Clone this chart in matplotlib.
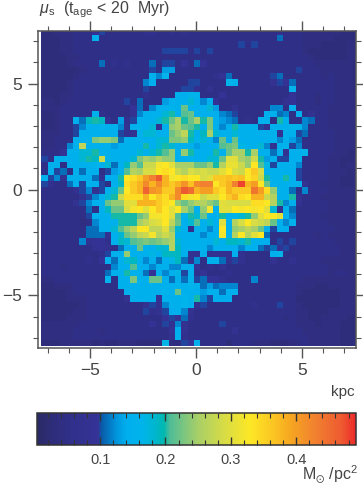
import matplotlib
matplotlib.use('Agg')
import matplotlib.pyplot as plt
from matplotlib.colors import LinearSegmentedColormap, Normalize
from matplotlib.ticker import MultipleLocator
import numpy as np

plt.rcParams['font.family'] = ['Liberation Sans', 'DejaVu Sans']
plt.rcParams['mathtext.fontset'] = 'custom'
plt.rcParams['mathtext.rm'] = 'Liberation Sans'
plt.rcParams['mathtext.it'] = 'Liberation Sans:italic'
plt.rcParams['mathtext.fallback'] = 'stixsans'

# surface density per cell in hundredths of Msun/pc^2, top row first
row_00 = [3,3,4,4,4,5,5,5,9,10, 5,5,5,5,5,5,6,7,5,5, 6,5,6,5,5,5,5,5,5,5, 5,5,5,5,5,5,5,6,5,5, 5,4,4,4,4,4,4,3,3,3]
row_01 = [3,3,3,4,4,5,5,5,15,5, 5,5,5,5,5,5,5,5,5,5, 5,5,5,5,5,5,5,5,5,5, 5,5,5,5,5,5,5,11,5,5, 5,4,4,4,4,4,3,3,3,3]
row_02 = [3,3,3,4,4,5,5,5,5,5, 5,5,5,5,5,5,5,5,5,5, 5,5,5,5,5,5,5,5,5,5, 5,10,5,10,5,5,5,5,5,5, 5,4,4,4,3,3,3,3,4,4]
row_03 = [3,3,3,4,4,5,5,5,5,5, 5,5,5,5,5,5,5,5,5,10, 10,10,10,5,10,5,10,5,5,5, 5,5,5,5,5,5,5,5,5,5, 5,4,3,3,3,3,3,3,4,4]
row_04 = [3,3,3,3,4,4,5,5,5,5, 5,5,5,5,5,5,5,5,5,5, 5,5,5,5,5,5,5,5,5,5, 5,5,5,5,5,5,5,5,5,5, 5,5,4,3,3,3,3,3,4,4]
row_05 = [3,3,3,3,4,5,5,5,5,11, 5,6,5,6,5,5,5,11,5,10, 10,5,9,5,11,9,5,5,5,5, 5,5,5,5,5,5,5,5,5,5, 5,5,5,4,4,4,4,4,4,3]
row_06 = [3,3,3,3,3,3,4,5,5,5, 5,5,5,5,5,5,5,10,5,13, 13,5,5,5,5,5,5,5,5,5, 5,5,5,5,5,5,5,5,5,5, 10,5,5,5,4,4,4,4,4,3]
row_07 = [3,3,3,3,3,4,5,5,5,5, 5,5,5,5,5,5,5,15,12,16, 5,5,5,5,5,5,5,6,9,11, 5,5,5,5,5,5,10,11,5,5, 5,5,5,5,4,5,4,4,4,3]
row_08 = [3,3,3,3,4,5,5,5,5,5, 5,5,5,5,5,5,12,14,5,5, 5,5,5,10,10,5,5,5,5,16, 15,5,5,5,5,5,8,10,9,11, 5,5,5,5,5,5,4,4,4,3]
row_09 = [3,3,3,3,4,5,5,5,5,5, 5,5,5,5,5,5,10,5,5,5, 5,5,10,10,7,5,8,5,5,5, 5,5,5,5,5,5,5,5,5,16, 5,5,5,5,5,5,4,4,4,3]
row_10 = [3,3,3,4,4,5,5,5,5,5, 5,5,5,5,5,5,6,5,5,5, 5,15,14,16,16,5,5,5,9,5, 5,5,5,5,5,5,5,5,5,9, 5,5,5,4,5,5,4,4,4,4]
row_11 = [4,4,3,4,5,5,5,5,5,5, 5,5,5,10,5,11,5,5,5,13, 15,15,15,18,15,12,15,9,5,5, 5,5,5,5,5,5,5,5,8,9, 5,5,5,4,5,5,4,4,4,4]
row_12 = [4,4,4,5,5,5,5,5,5,5, 5,5,5,5,9,11,5,12,15,15, 16,15,22,15,15,15,18,13,5,5, 8,5,5,5,5,5,12,12,5,15, 5,5,5,5,5,4,4,4,4,4]
row_13 = [3,3,4,5,5,5,5,5,15,6, 5,5,5,5,8,12,15,15,15,18, 20,15,21,22,15,15,15,15,12,11, 10,5,5,5,5,15,15,11,12,5, 15,5,8,5,5,4,4,4,4,4]
row_14 = [3,3,4,5,5,15,11,19,20,19, 9,5,13,7,10,15,15,15,18,20, 22,25,20,22,25,20,23,15,13,12, 11,5,6,5,15,15,5,20,15,5, 5,12,11,5,5,4,4,4,4,4]
row_15 = [3,3,4,5,5,10,12,15,15,16, 15,15,12,8,15,16,15,18,8,15, 24,25,22,21,20,15,23,15,12,15, 20,15,15,15,10,7,15,15,15,16, 15,12,5,5,5,4,4,4,4,4]
row_16 = [4,4,4,5,5,10,15,15,15,15, 15,15,10,7,8,15,18,18,15,15, 22,24,27,20,15,19,25,18,15,15, 18,15,15,15,15,15,15,8,15,15, 10,11,5,5,5,5,4,4,4,4]
row_17 = [4,4,5,5,5,15,15,15,23,24, 24,23,11,15,15,15,15,15,18,18, 23,23,24,19,16,18,15,12,22,15, 22,15,15,15,15,15,15,12,15,13, 11,5,5,5,5,5,4,4,4,4]
row_18 = [4,4,5,5,12,15,27,15,15,15, 15,13,15,15,15,15,20,15,18,20, 18,15,15,15,13,14,15,15,21,22, 23,17,15,15,18,12,8,15,16,10, 12,5,5,5,5,5,4,4,4,4]
row_19 = [5,5,5,9,15,15,18,18,20,15, 15,15,15,15,15,18,15,18,20,21, 24,15,24,20,15,15,15,20,15,22, 25,25,20,25,15,15,11,15,8,15, 15,16,5,5,5,5,4,4,3,3]
row_20 = [10,5,15,15,15,15,18,20,19,28, 15,15,15,15,18,23,25,24,26,24, 24,15,15,16,15,15,18,18,22,30, 30,25,24,28,20,13,15,10,10,15, 15,5,5,5,5,4,4,3,3,4]
row_21 = [5,15,15,5,15,15,15,15,16,15, 18,11,15,19,24,21,28,28,32,33, 30,25,25,25,22,22,24,20,26,31, 31,28,24,33,21,17,10,15,15,15, 12,5,5,5,5,4,4,3,4,4]
row_22 = [5,15,10,11,5,15,11,15,15,5, 10,13,15,21,26,25,29,29,33,34, 33,28,26,29,28,29,28,28,30,33, 29,28,33,36,29,15,15,15,15,15, 10,5,5,5,5,4,4,4,3,4]
row_23 = [15,10,12,8,15,15,15,14,11,8, 14,15,20,33,34,36,40,43,47,38, 32,33,34,33,33,29,30,36,36,37, 36,37,33,35,28,20,15,15,20,15, 10,5,5,5,5,4,4,3,3,4]
row_24 = [10,7,5,5,11,15,10,15,15,10, 5,15,19,34,36,38,42,38,42,38, 36,38,41,37,42,43,43,33,36,38, 43,48,38,40,33,22,15,15,15,15, 15,8,5,5,4,4,4,3,3,4]
row_25 = [5,5,5,5,5,7,10,12,8,10, 15,18,22,33,36,38,46,41,40,36, 36,42,47,45,38,40,40,36,34,38, 36,36,36,44,40,34,24,15,15,11, 5,12,5,5,5,4,4,4,4,4]
row_26 = [5,5,5,5,5,5,8,10,12,15, 18,20,28,34,34,34,38,33,36,34, 38,42,34,32,33,28,30,30,33,36, 38,34,33,38,38,28,26,15,15,20, 8,5,5,5,4,4,4,4,4,4]
row_27 = [5,5,5,5,5,8,10,12,15,15, 22,24,24,30,30,38,38,38,36,34, 33,24,22,24,26,26,24,22,30,29, 29,29,29,34,34,33,26,20,12,15, 8,5,5,5,5,4,4,4,4,4]
row_28 = [5,5,5,5,5,5,5,11,5,15, 19,22,22,29,32,33,30,33,36,33, 30,33,25,22,15,24,32,15,30,30, 33,32,33,32,33,30,18,8,15,11, 5,5,5,5,5,4,4,4,4,4]
row_29 = [5,5,5,5,5,5,5,10,15,15, 15,20,20,20,20,22,24,32,32,33, 30,21,15,20,18,22,15,15,20,15, 16,18,20,24,30,33,33,30,15,12, 5,5,5,5,4,4,4,4,4,4]
row_30 = [5,5,5,5,5,5,4,5,12,15, 15,15,20,20,20,25,27,29,30,33, 27,22,15,18,21,15,18,15,30,15, 26,29,33,29,28,27,22,15,12,15, 5,5,5,5,5,4,4,4,4,4]
row_31 = [5,5,5,5,5,5,5,11,11,15, 15,18,21,24,27,33,33,27,27,30, 24,18,15,6,15,15,12,15,33,15, 24,25,27,25,22,15,10,15,14,5, 5,5,5,5,5,5,4,4,4,4]
row_32 = [5,5,5,5,5,5,5,11,11,11, 8,15,18,22,24,27,28,32,26,28, 26,15,15,15,15,12,15,15,32,15, 26,33,26,30,33,11,5,5,5,5, 5,5,5,4,5,4,4,4,4,4]
row_33 = [5,5,5,5,5,5,12,8,9,9, 6,15,19,18,21,22,23,22,23,24, 26,18,15,15,15,15,14,18,15,19, 19,18,20,15,15,14,5,10,5,10, 5,5,5,5,5,5,4,4,4,4]
row_34 = [5,5,5,5,5,5,5,5,8,9, 8,5,11,15,15,22,16,15,18,18, 26,19,15,15,15,15,12,15,15,15, 15,12,15,15,11,10,11,9,10,5, 5,5,5,5,5,5,5,4,4,4]
row_35 = [5,5,5,5,5,5,5,5,5,6, 10,15,15,24,15,15,15,17,15,19, 19,19,15,8,8,15,7,8,8,8, 15,7,5,5,5,5,15,16,5,5, 5,5,5,5,5,5,5,4,4,4]
row_36 = [5,5,5,5,5,5,5,6,5,9, 15,11,15,18,19,15,12,15,11,15, 17,19,11,8,12,5,15,15,11,8, 10,7,5,5,5,5,8,5,5,7, 5,5,5,5,4,4,4,4,4,4]
row_37 = [5,5,5,4,5,5,5,5,5,5, 5,12,15,15,21,15,14,12,15,15, 12,12,15,15,9,5,6,5,8,5, 5,5,5,5,5,5,5,5,5,5, 5,5,5,5,5,4,4,4,4,4]
row_38 = [5,5,5,5,5,5,5,5,5,5, 11,15,15,20,15,15,11,9,15,12, 15,17,10,16,6,9,5,5,5,6, 5,5,5,5,5,5,5,5,5,5, 5,5,5,5,5,4,5,5,4,4]
row_39 = [4,4,5,5,5,5,5,5,5,5, 16,5,15,15,23,15,15,22,22,15, 11,15,11,16,10,11,9,9,6,5, 5,5,5,12,5,5,5,5,5,5, 5,4,4,4,4,4,4,4,4,4]
row_40 = [3,3,4,4,4,5,5,5,5,5, 5,5,15,15,15,15,15,15,15,15, 15,16,15,16,15,11,13,11,12,12, 12,5,5,5,5,5,5,5,5,5, 4,4,4,3,3,4,4,4,4,4]
row_41 = [3,3,3,3,4,5,5,5,5,5, 5,5,5,15,15,15,15,15,15,16, 15,22,15,15,15,13,15,15,11,15, 15,5,5,5,5,5,5,5,5,5, 4,3,3,3,3,3,3,4,4,4]
row_42 = [3,3,3,3,4,4,4,5,5,5, 5,5,5,8,15,15,15,15,9,15, 15,15,16,15,20,12,10,15,14,14, 5,5,5,5,5,5,5,5,5,5, 3,3,3,3,3,3,3,4,4,4]
row_43 = [3,3,3,3,3,3,4,5,5,5, 5,5,5,5,5,5,8,10,7,12, 15,15,16,15,7,10,5,5,5,5, 5,5,5,6,5,5,5,10,5,5, 4,3,3,3,3,3,3,4,4,4]
row_44 = [3,3,3,3,3,4,4,5,5,5, 5,5,5,5,5,5,10,6,8,10, 14,15,12,8,5,5,5,5,5,5, 5,5,5,5,5,5,5,5,5,5, 4,4,3,3,3,4,4,4,4,4]
row_45 = [3,3,3,3,4,4,4,5,5,5, 5,5,5,5,5,5,5,5,5,9, 10,9,11,7,5,5,5,5,5,5, 5,5,5,5,5,5,5,5,4,5, 4,4,3,3,4,4,4,4,3,3]
row_46 = [4,4,4,4,4,4,5,5,5,5, 5,5,5,5,5,5,5,9,5,10, 7,12,8,5,5,5,5,5,10,5, 5,5,5,5,5,5,5,5,5,5, 4,4,4,3,4,4,4,3,3,3]
row_47 = [4,4,4,4,4,5,5,5,5,4, 5,5,5,5,5,5,5,5,5,5, 9,14,8,5,5,5,5,5,5,5, 8,5,5,5,5,5,5,5,5,5, 5,4,4,4,4,4,4,3,3,3]
row_48 = [4,4,4,4,4,5,5,5,5,5, 5,5,5,5,5,5,5,5,5,5, 7,15,6,5,5,5,5,5,5,5, 5,5,5,5,5,5,5,5,5,5, 5,5,4,4,4,4,4,3,3,3]
row_49 = [3,3,3,4,4,4,4,4,3,4, 3,3,4,4,4,3,3,3,3,17, 4,4,10,9,14,5,5,5,5,3, 5,5,5,4,4,4,3,3,3,4, 4,5,4,4,4,4,4,3,3,4]

rows = [row_00, row_01, row_02, row_03, row_04, row_05, row_06, row_07, row_08, row_09,
        row_10, row_11, row_12, row_13, row_14, row_15, row_16, row_17, row_18, row_19,
        row_20, row_21, row_22, row_23, row_24, row_25, row_26, row_27, row_28, row_29,
        row_30, row_31, row_32, row_33, row_34, row_35, row_36, row_37, row_38, row_39,
        row_40, row_41, row_42, row_43, row_44, row_45, row_46, row_47, row_48, row_49]

W, H = 363, 484
TXT = '#444444'
LINE = '#555555'
vmin, vmax = 0.004, 0.491

# colour table with the jumps at 0.1 and 0.2
stops = [(0.004, '#2a2a66'), (0.03, '#2e2d7c'), (0.06, '#31308c'), (0.097, '#353396'),
         (0.102, '#0a5aa8'), (0.125, '#0095dc'), (0.14, '#00aeee'), (0.165, '#00b4ea'),
         (0.185, '#00b6cc'), (0.198, '#00b8ae'), (0.206, '#4cbc98'), (0.25, '#a8cf68'),
         (0.29, '#d8dc45'), (0.33, '#fde725'), (0.37, '#fac022'), (0.39, '#f6a820'),
         (0.43, '#f18030'), (0.47, '#ee5a30'), (0.491, '#ed2a2a')]
cmap = LinearSegmentedColormap.from_list(
    'surf', [((v - vmin) / (vmax - vmin), c) for v, c in stops], N=512)

fig = plt.figure(figsize=(W / 100, H / 100), dpi=100)

ax = fig.add_axes([37.5 / W, 1 - 348 / H, (355.7 - 37.5) / W, (348 - 31) / H])
data = np.array(rows)[::-1] / 100.0
xedges = -7.3 + 0.3 * np.arange(data.shape[1] + 1)
yedges = -7.4 + 0.3 * np.arange(data.shape[0] + 1)
mesh = ax.pcolormesh(xedges, yedges, data, cmap=cmap, norm=Normalize(vmin, vmax),
                     linewidth=0, rasterized=True)
ax.set_xlim(-7.48, 7.53)
ax.set_ylim(-7.48, 7.48)
ax.set_xticks([-5, 0, 5])
ax.set_xticklabels(['\u22125', '0', '5'])
ax.set_yticks([-5, 0, 5])
ax.set_yticklabels(['\u22125', '0', '5'])
ax.xaxis.set_minor_locator(MultipleLocator(1))
ax.yaxis.set_minor_locator(MultipleLocator(1))
ax.tick_params(which='major', direction='out', length=7, width=1, color=LINE,
               top=True, right=True, labelsize=12.5, labelcolor=TXT, pad=4)
ax.tick_params(which='minor', direction='out', length=3.5, width=0.8, color=LINE,
               top=True, right=True)
for s in ax.spines.values():
    s.set_color(LINE)
    s.set_linewidth(1.1)

fig.text(39 / W, 1 - 10 / H, r'$\mathit{\mu}_{\mathrm{s}}$  (t$_{\mathrm{age}}$ < 20  Myr)',
         fontsize=11.5, color=TXT, ha='left', va='center')
fig.text(355 / W, 1 - 392 / H, 'kpc', fontsize=11, color=TXT, ha='right', va='center')

cax = fig.add_axes([37.3 / W, 1 - 444.7 / H, (355.7 - 37.3) / W, 32 / H])
cb = fig.colorbar(mesh, cax=cax, orientation='horizontal')
cb.set_ticks([0.1, 0.2, 0.3, 0.4])
cb.set_ticklabels(['0.1', '0.2', '0.3', '0.4'])
cax.xaxis.set_minor_locator(MultipleLocator(0.02))
cax.tick_params(which='major', direction='in', length=6, width=1, color='#333333',
                top=True, bottom=True, labelsize=10.5, labelcolor=TXT, pad=6)
cax.tick_params(which='minor', direction='in', length=3.5, width=0.8, color='#333333',
                top=True, bottom=True)
cb.outline.set_edgecolor('#333333')
cb.outline.set_linewidth(1.1)
fig.text(358 / W, 1 - 474 / H, r'M$_{\odot}$ /pc$^{2}$', fontsize=11.5, color=TXT,
         ha='right', va='center')

fig.savefig('out.png', dpi=100)
